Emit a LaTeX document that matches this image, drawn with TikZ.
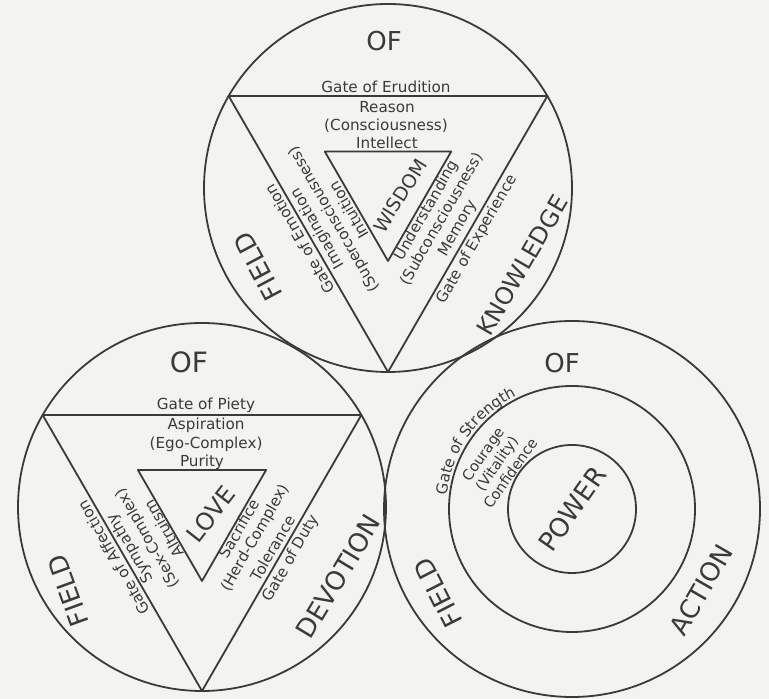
\documentclass[tikz,border=0pt]{standalone}
\usepackage{fontspec}
\setmainfont{DejaVu Sans}
\usetikzlibrary{decorations.text}

\definecolor{ink}{RGB}{58,58,58}
\definecolor{paper}{RGB}{243,243,239}
\newcommand\gatesize{\fontsize{7.6}{8}\selectfont}

\tikzset{
  ring/.style={draw=ink, line width=0.9pt},
  tri/.style={draw=ink, line width=0.9pt, line join=round},
  gate/.style={font=\gatesize, text=ink, inner sep=0pt},
  rim/.style={font=\fontsize{7.3}{8.4}\selectfont, text=ink, inner sep=0pt, align=center},
  field/.style={font=\fontsize{13}{13}\selectfont, text=ink, inner sep=0pt},
  core/.style={font=\fontsize{9.5}{9.5}\selectfont, text=ink, inner sep=0pt},
}

\begin{document}
\begin{tikzpicture}[x=0.5pt, y=0.5pt]
\fill[paper] (0,0) rectangle (769,699);
\useasboundingbox (0,0) rectangle (769,699);

% field of knowledge
\begin{scope}[shift={(388,511)}]
\draw[ring] (0,0) circle (184);
\coordinate (k1) at (150:184);
\coordinate (k2) at (30:184);
\coordinate (k3) at (270:184);
\draw[tri] (k1) -- (k2) -- (k3) -- cycle;
\coordinate (w1) at (150:73);
\coordinate (w2) at (30:73);
\coordinate (w3) at (270:73);
\draw[tri] (w1) -- (w2) -- (w3) -- cycle;

\node[field] (kof) at (-4,147) {OF};
\node[field, rotate=118] (kfield) at (211:152) {FIELD};
\node[field, font=\fontsize{12}{12}\selectfont, rotate=60] (know) at (330:155) {KNOWLEDGE};

\node[gate] (erud) at (-2,101) {Gate of Erudition};
\node[gate] (reas) at (-1,81) {Reason};
\node[gate] (cons) at (-2,62) {(Consciousness)};
\node[gate] (intl) at (-1,45) {Intellect};

\node[gate, rotate=120] (emot) at (210:102) {Gate of Emotion};
\node[gate, rotate=120] (imag) at (210:81) {Imagination};
\node[gate, rotate=120] (supc) at (210:62) {(Superconsciousness)};
\node[gate, rotate=120] (intu) at (210:45) {Intuition};

\node[gate, rotate=60] (unde) at (330:45) {Understanding};
\node[gate, rotate=60] (subc) at (330:62) {(Subconsciousness)};
\node[gate, rotate=60] (memo) at (330:81) {Memory};
\node[gate, rotate=60] (expe) at (330:103) {Gate of Experience};

\node[core, rotate=58] (wisd) at (12,-8) {WISDOM};
\end{scope}

% field of devotion
\begin{scope}[shift={(202,192)}]
\draw[ring] (0,0) circle (184);
\coordinate (d1) at (150:184);
\coordinate (d2) at (30:184);
\coordinate (d3) at (270:184);
\draw[tri] (d1) -- (d2) -- (d3) -- cycle;
\coordinate (l1) at (150:74);
\coordinate (l2) at (30:74);
\coordinate (l3) at (270:74);
\draw[tri] (l1) -- (l2) -- (l3) -- cycle;

\node[field, font=\fontsize{14}{14}\selectfont] (dof) at (-13,145) {OF};
\node[field, rotate=110] (dfield) at (212:158) {FIELD};
\node[field, rotate=59] (devo) at (333:153) {DEVOTION};

\node[gate] (piet) at (4,102) {Gate of Piety};
\node[gate] (aspi) at (4,82) {Aspiration};
\node[gate] (egoc) at (4,63) {(Ego-Complex)};
\node[gate] (puri) at (0,45) {Purity};

\node[gate, rotate=120] (affe) at (210:102) {Gate of Affection};
\node[gate, rotate=120] (symp) at (210:82) {Sympathy};
\node[gate, rotate=120] (sexc) at (210:62) {(Sex-Complex)};
\node[gate, rotate=120] (altr) at (210:44) {Altruism};

\node[gate, rotate=60] (sacr) at (330:43) {Sacrifice};
\node[gate, rotate=60] (herd) at (330:62) {(Herd-Complex)};
\node[gate, rotate=60] (tole) at (330:82) {Tolerance};
\node[gate, rotate=60] (duty) at (330:103) {Gate of Duty};

\node[core, font=\fontsize{12}{12}\selectfont, rotate=52] (love) at (9,-7) {LOVE};
\end{scope}

% field of action
\begin{scope}[shift={(572,190)}]
\draw[ring] (0,0) circle (188);
\draw[ring] (0,0) circle (123);
\draw[ring] (0,0) circle (64);

\node[field] (aof) at (-10,146) {OF};
\node[field, rotate=117] (afield) at (212:158) {FIELD};
\node[field, rotate=60] (acti) at (328:152) {ACTION};

\path[decorate, decoration={text along path, text={|\gatesize|Gate of Strength},
  text align=center, text color=ink}]
  (182:126) arc[start angle=182, end angle=108, radius=126];
\node[rim, rotate=55] (cour) at (149:88) {Courage\\(Vitality)\\Confidence};

\node[field, rotate=55] (powr) at (0,0) {POWER};
\end{scope}
\end{tikzpicture}
\end{document}
